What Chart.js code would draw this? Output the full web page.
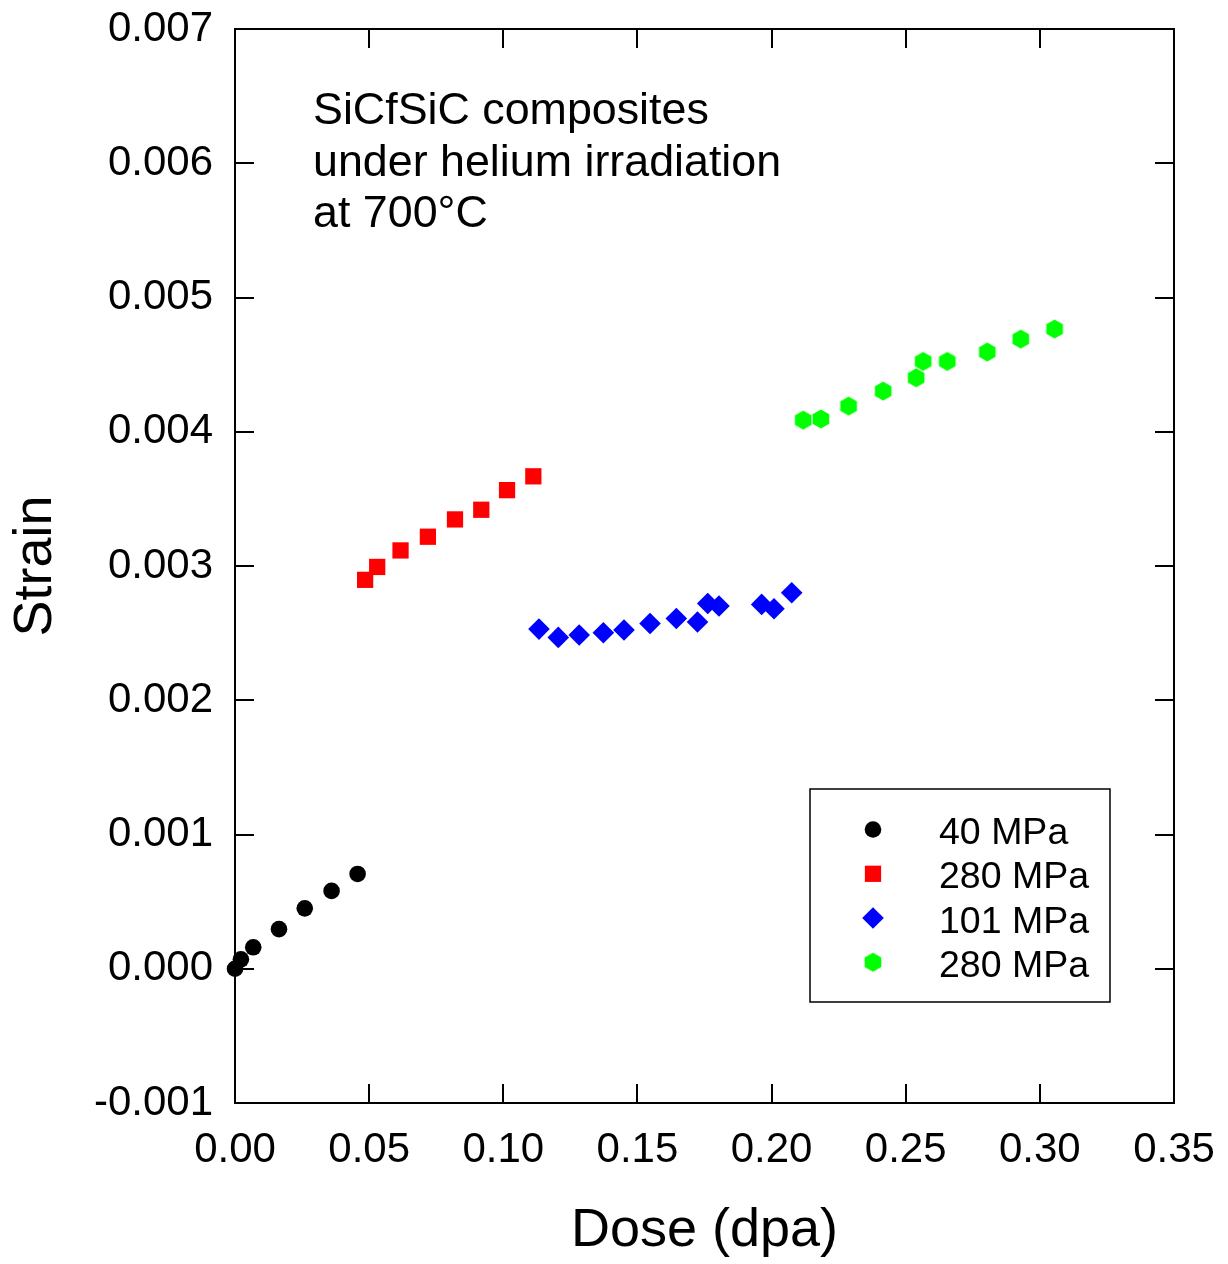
<!DOCTYPE html>
<html>
<head>
<meta charset="utf-8">
<script src="https://cdn.jsdelivr.net/npm/chart.js@4/dist/chart.umd.min.js"></script>
<style>
html,body{margin:0;padding:0;background:#fff;}
canvas{display:block;}
</style>
</head>
<body>
<canvas id="c" width="1228" height="1264"></canvas>
<script>
// ---- data ----
const dose40 = [0, 0.0022, 0.0068, 0.0164, 0.026, 0.036, 0.0457];
const strain40 = [0, 0.00007, 0.00016, 0.000295, 0.00045, 0.00058, 0.000706];

const dose280a = [0.0485, 0.053, 0.0617, 0.0719, 0.082, 0.0918, 0.1014, 0.1112];
const strain280a = [0.002897, 0.002993, 0.003116, 0.003218, 0.003347, 0.003419, 0.003565, 0.003668];

const dose101 = [0.1133, 0.1205, 0.1283, 0.1373, 0.145, 0.1547, 0.1645, 0.1724, 0.1762, 0.1804, 0.1963, 0.2009, 0.2075];
const strain101 = [0.00253, 0.002468, 0.002486, 0.002503, 0.002523, 0.002572, 0.002609, 0.002583, 0.002721, 0.002702, 0.002714, 0.002682, 0.002801];

const dose280b = [0.2118, 0.2184, 0.2287, 0.2416, 0.2539, 0.2565, 0.2655, 0.2804, 0.2929, 0.3055];
const strain280b = [0.004087, 0.004095, 0.004191, 0.004303, 0.004402, 0.004524, 0.004524, 0.004594, 0.00469, 0.004765];

const seriesLabels = ['40 MPa', '280 MPa', '101 MPa', '280 MPa'];
const xTickLabels = ['0.00','0.05','0.10','0.15','0.20','0.25','0.30','0.35'];
const yTickLabels = ['-0.001','0.000','0.001','0.002','0.003','0.004','0.005','0.006','0.007'];
const annotationLines = ['SiCfSiC composites', 'under helium irradiation', 'at 700°C'];
const xTitle = 'Dose (dpa)';
const yTitle = 'Strain';

// ---- helpers ----
const zip = (xs, ys) => xs.map((x, i) => ({x: x, y: ys[i]}));
const FONT = "'Liberation Sans', Arial, sans-serif";

function hexagon(color) {
  const c = document.createElement('canvas');
  c.width = 22; c.height = 22;
  const g = c.getContext('2d');
  g.fillStyle = color;
  g.beginPath();
  for (let k = 0; k < 6; k++) {
    const a = -Math.PI / 2 + k * Math.PI / 3;
    const px = 11 + 9.6 * Math.cos(a), py = 11 + 9.6 * Math.sin(a);
    if (k === 0) g.moveTo(px, py); else g.lineTo(px, py);
  }
  g.closePath();
  g.fill();
  return c;
}
const hexGreen = hexagon('#00ff00');

const frame = {
  id: 'frame',
  beforeDatasetsDraw(chart) {
    const {ctx, chartArea: a, scales: {x, y}} = chart;
    ctx.save();
    ctx.strokeStyle = '#000';
    ctx.lineWidth = 2;
    ctx.strokeRect(a.left, a.top, a.right - a.left, a.bottom - a.top);
    const L = 19;
    ctx.beginPath();
    x.ticks.forEach(t => {
      const px = Math.round(x.getPixelForValue(t.value));
      if (px <= a.left + 1 || px >= a.right - 1) return;
      ctx.moveTo(px, a.bottom); ctx.lineTo(px, a.bottom - L);
      ctx.moveTo(px, a.top); ctx.lineTo(px, a.top + L);
    });
    y.ticks.forEach(t => {
      const py = Math.round(y.getPixelForValue(t.value));
      if (py <= a.top + 1 || py >= a.bottom - 1) return;
      ctx.moveTo(a.left, py); ctx.lineTo(a.left + L, py);
      ctx.moveTo(a.right, py); ctx.lineTo(a.right - L, py);
    });
    ctx.stroke();
    // annotation text
    ctx.fillStyle = '#000';
    ctx.font = '44.8px ' + FONT;
    ctx.textAlign = 'left';
    ctx.textBaseline = 'alphabetic';
    const bases = [124, 175.5, 227];
    annotationLines.forEach((s, i) => ctx.fillText(s, 313, bases[i]));
    ctx.restore();
  },
  afterDatasetsDraw(chart) {
    const {ctx} = chart;
    ctx.save();
    // legend box
    ctx.fillStyle = '#fff';
    ctx.fillRect(810, 789, 300, 213);
    ctx.strokeStyle = '#000';
    ctx.lineWidth = 1.5;
    ctx.strokeRect(810, 789, 300, 213);
    const baselines = [844, 888.3, 932.5, 976.7];
    ctx.font = '37.5px ' + FONT;
    ctx.textAlign = 'left';
    ctx.textBaseline = 'alphabetic';
    chart.data.datasets.forEach((ds, i) => {
      const my = baselines[i] - 14.5;
      ctx.fillStyle = ds.backgroundColor;
      ctx.strokeStyle = ds.borderColor;
      Chart.helpers.drawPoint(ctx, {
        pointStyle: ds.pointStyle, radius: ds.pointRadius, rotation: 0, borderWidth: 0
      }, 873, my);
      ctx.fillStyle = '#000';
      ctx.fillText(ds.label, 939, baselines[i]);
    });
    ctx.restore();
  }
};

const ds = (label, xs, ys, color, style, r) => ({
  label: label,
  data: zip(xs, ys),
  backgroundColor: color,
  borderColor: color,
  borderWidth: 0,
  pointStyle: style,
  pointRadius: r,
  pointHoverRadius: r,
  clip: false
});

const chart = new Chart(document.getElementById('c'), {
  type: 'scatter',
  data: {
    datasets: [
      ds(seriesLabels[0], dose40, strain40, '#000000', 'circle', 8.3),
      ds(seriesLabels[1], dose280a, strain280a, '#ff0000', 'rect', 11.5),
      ds(seriesLabels[2], dose101, strain101, '#0000ff', 'rectRot', 10.8),
      ds(seriesLabels[3], dose280b, strain280b, '#00ff00', hexGreen, 9.6)
    ]
  },
  options: {
    responsive: false,
    animation: false,
    events: [],
    layout: {padding: {left: 0, right: 54, top: 29, bottom: 0}},
    plugins: {legend: {display: false}, tooltip: {enabled: false}},
    scales: {
      x: {
        type: 'linear',
        min: 0, max: 0.35,
        afterFit: s => { s.height = 161; s.paddingLeft = 0; s.paddingRight = 0; },
        grid: {display: false, drawTicks: false},
        border: {display: false},
        ticks: {
          stepSize: 0.05,
          padding: 22,
          color: '#000',
          font: {family: FONT, size: 42},
          maxRotation: 0,
          callback: (v, i) => xTickLabels[Math.round(v / 0.05)]
        },
        title: {
          display: true, text: xTitle, color: '#000',
          font: {family: FONT, size: 54},
          padding: {top: 0, bottom: 0}
        }
      },
      y: {
        type: 'linear',
        min: -0.001, max: 0.007,
        afterFit: s => { s.width = 235; s.paddingTop = 0; s.paddingBottom = 0; },
        grid: {display: false, drawTicks: false},
        border: {display: false},
        ticks: {
          stepSize: 0.001,
          padding: 22,
          color: '#000',
          font: {family: FONT, size: 42},
          callback: (v) => yTickLabels[Math.round(v / 0.001) + 1]
        },
        title: {
          display: true, text: yTitle, color: '#000',
          font: {family: FONT, size: 54},
          padding: {top: 4, bottom: 0}
        }
      }
    }
  },
  plugins: [frame]
});
</script>
</body>
</html>
